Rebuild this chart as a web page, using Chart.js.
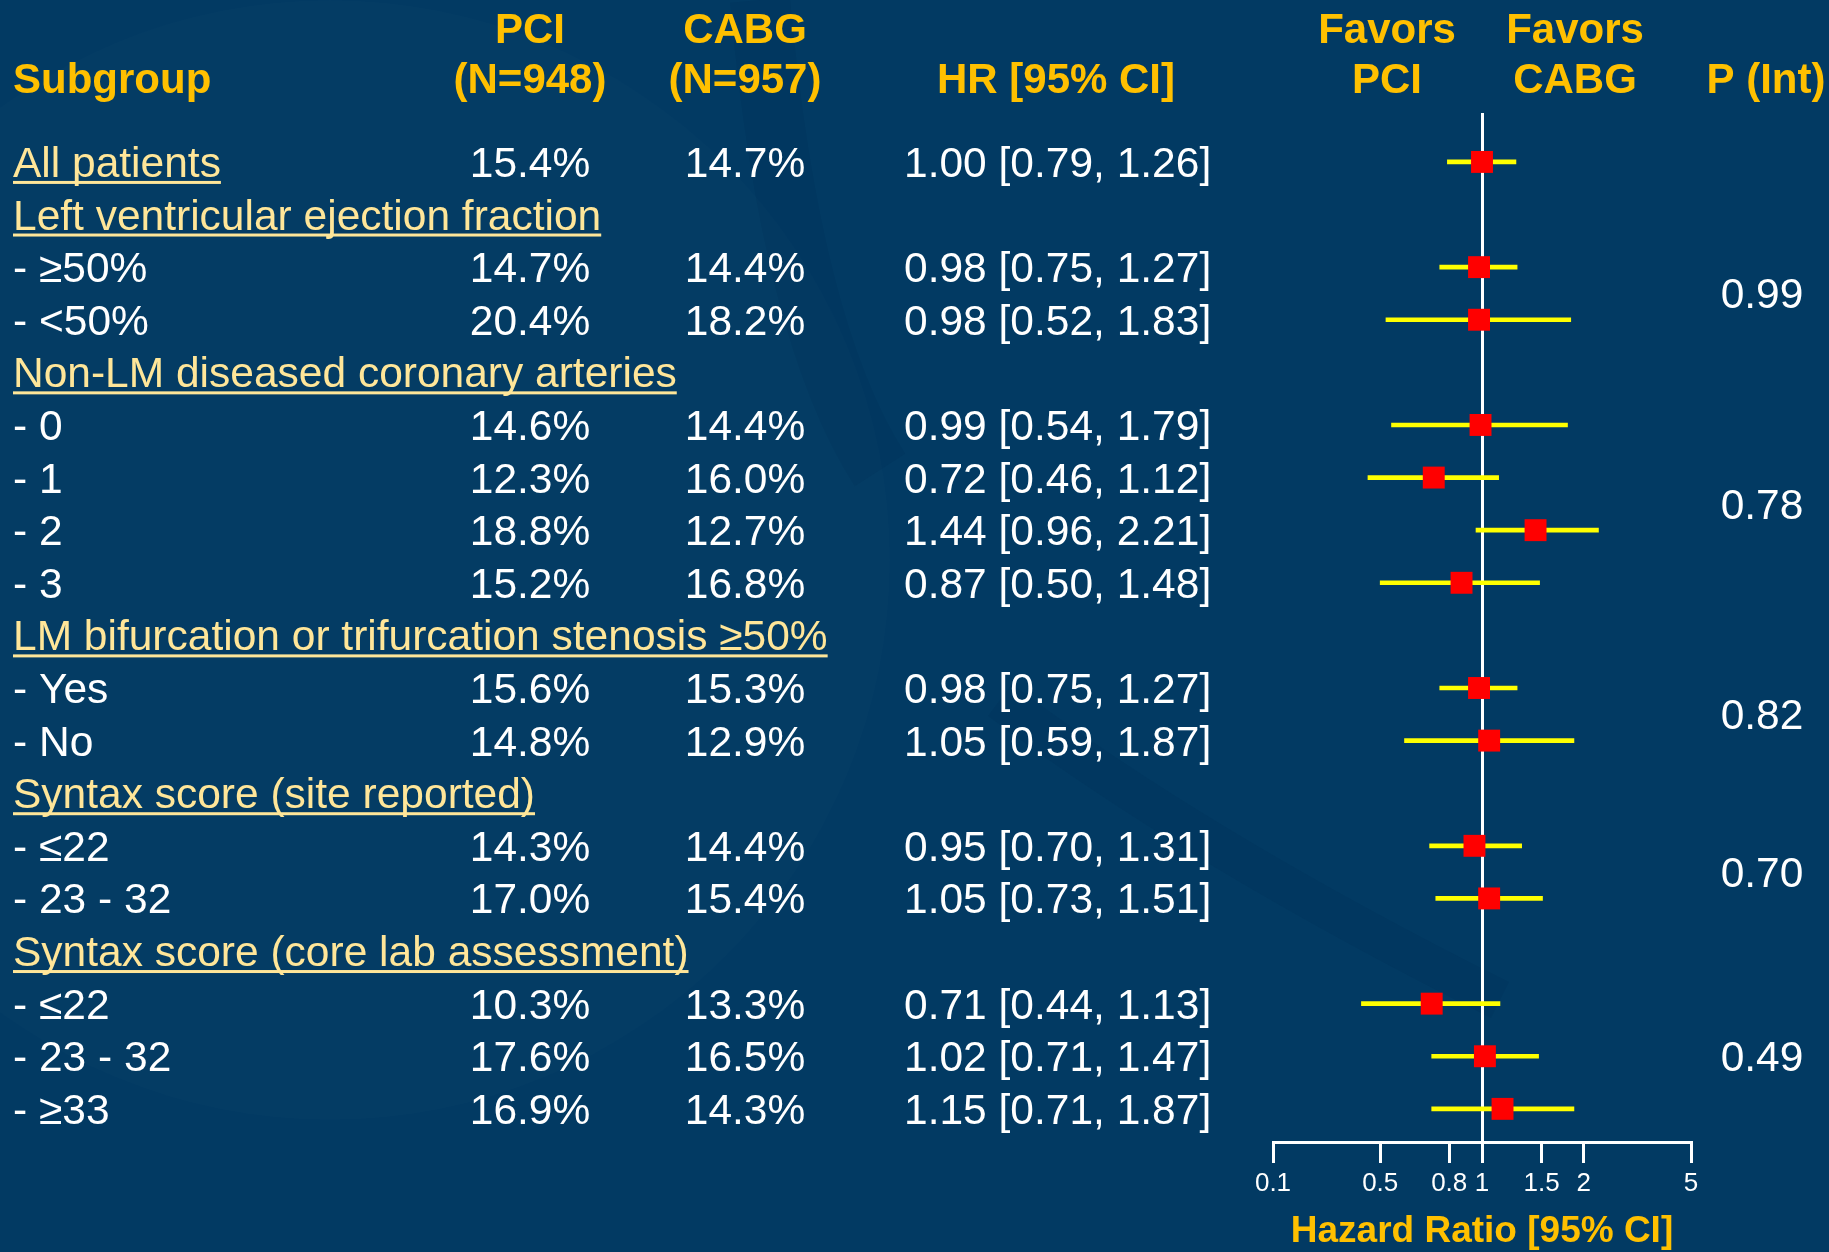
<!DOCTYPE html>
<html>
<head>
<meta charset="utf-8">
<script src="https://cdn.jsdelivr.net/npm/chart.js@4.4.1/dist/chart.umd.min.js"></script>
<style>
  html, body { margin: 0; padding: 0; background: #023a63; }
  #wrap { width: 1829px; height: 1252px; }
</style>
</head>
<body>
<div id="wrap"><canvas id="forestChart" width="1829" height="1252"></canvas></div>
<script>
// linhas da tabela (na ordem de cima para baixo)
const rowLabels = [
  'All patients',
  'Left ventricular ejection fraction',
  '- \u226550%',
  '- <50%',
  'Non-LM diseased coronary arteries',
  '- 0',
  '- 1',
  '- 2',
  '- 3',
  'LM bifurcation or trifurcation stenosis \u226550%',
  '- Yes',
  '- No',
  'Syntax score (site reported)',
  '- \u226422',
  '- 23 - 32',
  'Syntax score (core lab assessment)',
  '- \u226422',
  '- 23 - 32',
  '- \u226533'
];
const headingRows = [0, 1, 4, 9, 12, 15];

const pciRates  = [15.4, null, 14.7, 20.4, null, 14.6, 12.3, 18.8, 15.2, null, 15.6, 14.8, null, 14.3, 17.0, null, 10.3, 17.6, 16.9];
const cabgRates = [14.7, null, 14.4, 18.2, null, 14.4, 16.0, 12.7, 16.8, null, 15.3, 12.9, null, 14.4, 15.4, null, 13.3, 16.5, 14.3];
const hrValues  = [1.00, null, 0.98, 0.98, null, 0.99, 0.72, 1.44, 0.87, null, 0.98, 1.05, null, 0.95, 1.05, null, 0.71, 1.02, 1.15];
const ciLower   = [0.79, null, 0.75, 0.52, null, 0.54, 0.46, 0.96, 0.50, null, 0.75, 0.59, null, 0.70, 0.73, null, 0.44, 0.71, 0.71];
const ciUpper   = [1.26, null, 1.27, 1.83, null, 1.79, 1.12, 2.21, 1.48, null, 1.27, 1.87, null, 1.31, 1.51, null, 1.13, 1.47, 1.87];

// p de interacao por grupo
const pInteraction = [0.99, 0.78, 0.82, 0.70, 0.49];
const pGroups = [[2, 3], [5, 6, 7, 8], [10, 11], [13, 14], [16, 17, 18]];

// eixo x (HR)
const tickValues = [0.1, 0.5, 0.8, 1, 1.5, 2, 5];
const tickLabels = ['0.1', '0.5', '0.8', '1', '1.5', '2', '5'];
const axisMax = 4.15;
const axisMin = 1 / axisMax;

const FONT = '"Liberation Sans", Arial, Helvetica, sans-serif';
const YELLOW = '#ffc000';
const LIGHT_YELLOW = '#ffe699';

// montando os dados dos graficos
let dadosIC = [];
let dadosHR = [];
for (let i = 0; i < rowLabels.length; i++) {
  if (hrValues[i] == null) continue;
  dadosIC.push({ y: i, x: [ciLower[i], ciUpper[i]] });
  dadosHR.push({ x: hrValues[i], y: i });
}

const fundoPlugin = {
  id: 'fundo',
  beforeDraw(chart) {
    const ctx = chart.ctx;
    ctx.save();
    ctx.fillStyle = '#023a63';
    ctx.fillRect(0, 0, chart.width, chart.height);
    // leve desenho do fundo do slide
    ctx.fillStyle = 'rgba(255,255,255,0.012)';
    ctx.beginPath();
    ctx.arc(330, 560, 560, 0, Math.PI * 2);
    ctx.fill();
    ctx.strokeStyle = 'rgba(0,20,50,0.06)';
    ctx.lineWidth = 60;
    ctx.beginPath();
    ctx.moveTo(760, 0);
    ctx.quadraticCurveTo(790, 330, 880, 470);
    ctx.stroke();
    ctx.lineWidth = 40;
    ctx.beginPath();
    ctx.moveTo(1000, 700);
    ctx.quadraticCurveTo(1200, 850, 1500, 1000);
    ctx.stroke();
    ctx.restore();
  }
};

const tabelaPlugin = {
  id: 'tabela',
  afterDraw(chart) {
    const ctx = chart.ctx;
    const yScale = chart.scales.y;
    ctx.save();

    // cabecalho
    ctx.fillStyle = YELLOW;
    ctx.font = 'bold 42px ' + FONT;
    ctx.textBaseline = 'alphabetic';
    ctx.textAlign = 'left';
    ctx.fillText('Subgroup', 13, 93);
    ctx.textAlign = 'center';
    ctx.fillText('PCI', 530, 43);
    ctx.fillText('(N=948)', 530, 93);
    ctx.fillText('CABG', 745, 43);
    ctx.fillText('(N=957)', 745, 93);
    ctx.fillText('HR [95% CI]', 1056, 93);
    ctx.fillText('Favors', 1387, 43);
    ctx.fillText('PCI', 1387, 93);
    ctx.fillText('Favors', 1575, 43);
    ctx.fillText('CABG', 1575, 93);
    ctx.fillText('P (Int)', 1766, 93);

    // linhas
    ctx.font = '42.5px ' + FONT;
    for (let i = 0; i < rowLabels.length; i++) {
      const base = yScale.getPixelForValue(i) + 15;
      const titulo = headingRows.includes(i);
      ctx.textAlign = 'left';
      ctx.fillStyle = titulo ? LIGHT_YELLOW : '#ffffff';
      ctx.fillText(rowLabels[i], 13, base);
      if (titulo) {
        const w = ctx.measureText(rowLabels[i]).width;
        ctx.fillRect(13, base + 4, w, 3);
      }
      if (hrValues[i] == null) continue;
      ctx.fillStyle = '#ffffff';
      ctx.textAlign = 'center';
      ctx.fillText(pciRates[i].toFixed(1) + '%', 530, base);
      ctx.fillText(cabgRates[i].toFixed(1) + '%', 745, base);
      ctx.textAlign = 'left';
      ctx.fillText(hrValues[i].toFixed(2) + ' [' + ciLower[i].toFixed(2) + ', ' + ciUpper[i].toFixed(2) + ']', 904, base);
    }

    // p de interacao
    ctx.textAlign = 'center';
    ctx.fillStyle = '#ffffff';
    for (let g = 0; g < pGroups.length; g++) {
      const rows = pGroups[g];
      let soma = 0;
      rows.forEach(r => soma += yScale.getPixelForValue(r));
      ctx.fillText(pInteraction[g].toFixed(2), 1762, soma / rows.length + 15);
    }
    ctx.restore();
  }
};

const configForest = {
  type: 'scatter',
  data: {
    datasets: [
      {
        type: 'bar',
        label: 'IC 95%',
        indexAxis: 'y',
        data: dadosIC,
        backgroundColor: '#ffff00',
        borderWidth: 0,
        barThickness: 4,
        order: 2
      },
      {
        type: 'scatter',
        label: 'HR',
        data: dadosHR,
        pointStyle: 'rect',
        pointRadius: 15.5,
        pointHoverRadius: 15.5,
        backgroundColor: '#ff0000',
        borderWidth: 0,
        order: 1
      }
    ]
  },
  options: {
    responsive: false,
    animation: false,
    devicePixelRatio: 1,
    layout: { padding: { left: 1273, right: 138, top: 113, bottom: 0 } },
    plugins: {
      legend: { display: false },
      tooltip: { enabled: false }
    },
    scales: {
      y: {
        type: 'linear',
        reverse: true,
        offset: false,
        min: -0.93,
        max: 18.63,
        display: false,
        grid: { offset: false }
      },
      x: {
        type: 'logarithmic',
        offset: false,
        min: axisMin,
        max: axisMax,
        afterFit(scale) { scale.height = 110; },
        afterBuildTicks(scale) {
          scale.ticks = tickValues.map(v => ({ value: Math.min(Math.max(v, axisMin), axisMax) }));
        },
        ticks: {
          autoSkip: false,
          maxRotation: 0,
          color: '#ffffff',
          padding: 5,
          font: { family: FONT, size: 26 },
          callback: (value, index) => tickLabels[index]
        },
        grid: {
          offset: false,
          drawOnChartArea: true,
          drawTicks: true,
          tickLength: 21,
          tickColor: '#ffffff',
          tickWidth: 3,
          lineWidth: 3,
          color: (c) => (c.tick && c.tick.value === 1 ? '#ffffff' : 'rgba(0,0,0,0)')
        },
        border: { display: true, color: '#ffffff', width: 3 },
        title: {
          display: true,
          text: 'Hazard Ratio [95% CI]',
          color: YELLOW,
          font: { family: FONT, size: 37, weight: 'bold', lineHeight: 1.1 },
          padding: { top: 0, bottom: 0 }
        }
      }
    }
  },
  plugins: [fundoPlugin, tabelaPlugin]
};

let myChartForest = new Chart(document.getElementById('forestChart'), configForest);
</script>
</body>
</html>
